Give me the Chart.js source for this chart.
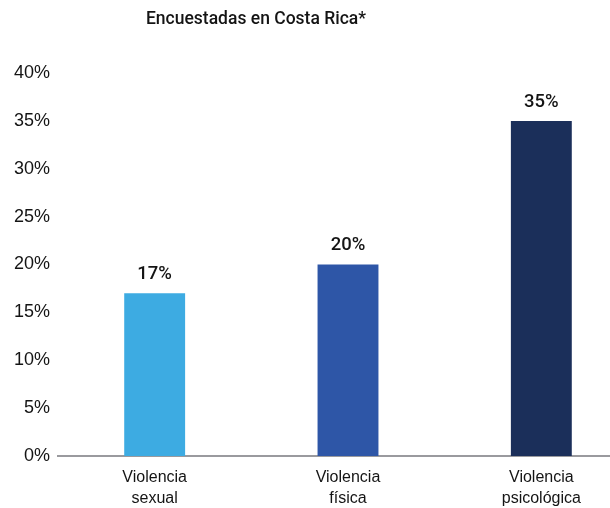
<!DOCTYPE html>
<html>
<head>
<meta charset="utf-8">
<script src="https://cdn.jsdelivr.net/npm/chart.js@4/dist/chart.umd.min.js"></script>
<style>
  html, body { margin: 0; padding: 0; background: #fff; overflow: hidden; }
  #wrap { position: relative; width: 640px; height: 508px; }
</style>
</head>
<body>
<div id="wrap"><canvas id="c" width="640" height="508"></canvas></div>
<script>
const categories = [["Violencia", "sexual"], ["Violencia", "física"], ["Violencia", "psicológica"]];
const values = [17, 20, 35];
const valueLabels = ["17%", "20%", "35%"];
const barColors = ["#3dabe2", "#2e56a7", "#1b2f5a"];
const chartTitle = "Encuestadas en Costa Rica*";

const textColor = "#141414";

// Title and value labels drawn on the canvas
const overlay = {
  id: "overlay",
  afterDatasetsDraw(chart) {
    const ctx = chart.ctx;
    ctx.save();
    ctx.fillStyle = textColor;
    ctx.textAlign = "center";
    ctx.textBaseline = "middle";
    ctx.font = "500 17.5px Roboto, 'Liberation Sans', sans-serif";
    ctx.fillText(chartTitle, 256, 20);
    ctx.font = "500 18.5px Roboto, 'Liberation Sans', sans-serif";
    const meta = chart.getDatasetMeta(0);
    meta.data.forEach((bar, i) => {
      ctx.fillText(valueLabels[i], bar.x, bar.y - 19);
    });
    ctx.restore();
  }
};

new Chart(document.getElementById("c"), {
  type: "bar",
  data: {
    labels: categories,
    datasets: [{
      data: values,
      backgroundColor: barColors,
      borderWidth: 0,
      barPercentage: 0.315,
      categoryPercentage: 1
    }]
  },
  options: {
    responsive: false,
    animation: false,
    layout: { padding: { top: 73, right: 2, left: 0, bottom: 0 } },
    plugins: { legend: { display: false }, tooltip: { enabled: false } },
    scales: {
      x: {
        grid: { display: false, drawTicks: false },
        border: { display: true, color: "#9a9a9e", width: 2 },
        ticks: {
          color: textColor,
          font: { family: "'Liberation Sans', Arial, sans-serif", size: 16, lineHeight: 1.3 },
          padding: 11,
          maxRotation: 0
        },
        afterFit(scale) { scale.height = 52; }
      },
      y: {
        min: 0,
        max: 40,
        grid: { display: false, drawTicks: false },
        border: { display: false },
        ticks: {
          stepSize: 5,
          color: textColor,
          font: { family: "'Liberation Sans', Arial, sans-serif", size: 18 },
          padding: 8,
          callback: v => v + "%"
        },
        afterFit(scale) { scale.width = 58; }
      }
    }
  },
  plugins: [overlay]
});
</script>
</body>
</html>
